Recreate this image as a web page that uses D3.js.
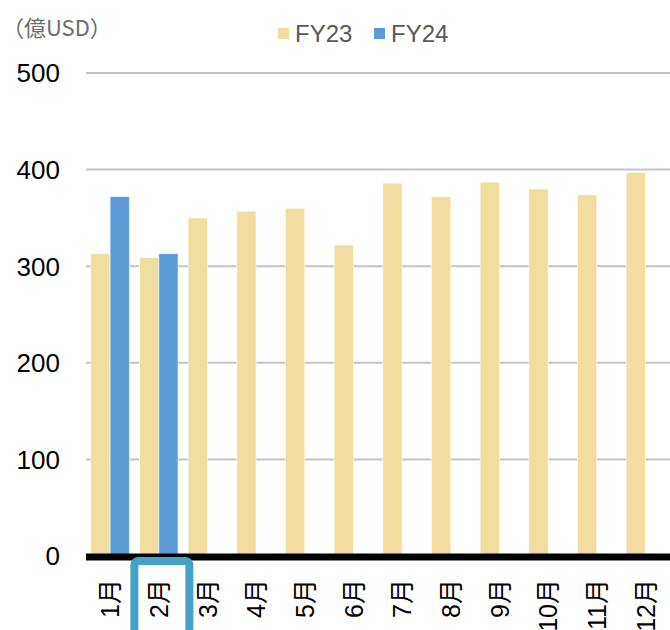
<!DOCTYPE html>
<html>
<head>
<meta charset="utf-8">
<script src="https://cdn.jsdelivr.net/npm/d3@7"></script>
<style>
  body { margin: 0; background: #fff; }
  svg { display: block; font-family: "Liberation Sans", "Noto Sans CJK JP", sans-serif; }
</style>
</head>
<body>
<div id="chart"></div>
<script>
// monthly values, 億USD
let months = ["1月","2月","3月","4月","5月","6月","7月","8月","9月","10月","11月","12月"]
let series = ["FY23","FY24"]
let fy23 = [313, 309, 350, 357, 360, 322, 386, 372, 387, 380, 374, 397]
let fy24 = [372, 313, null, null, null, null, null, null, null, null, null, null]
let yTicks = [0, 100, 200, 300, 400, 500]
let highlightMonth = "2月"

let width = 670, height = 630
let colors = {FY23: "#F2DDA0", FY24: "#5B9BD5"}

let rows = months.map((m, i) => ({month: m, FY23: fy23[i], FY24: fy24[i]}))

let svg = d3.select("#chart").append("svg")
  .attr("width", width)
  .attr("height", height)

let x = d3.scaleBand().domain(months).range([86, 670]).padding(0)
let x1 = d3.scaleBand().domain(series).range([4.8, 43.4]).padding(0)
let y = d3.scaleLinear().domain([0, 500]).range([556, 73])

// gridlines
svg.append("g")
  .selectAll("line")
  .data(yTicks.filter(d => d > 0))
  .join("line")
  .attr("x1", 86).attr("x2", 670)
  .attr("y1", d => y(d)).attr("y2", d => y(d))
  .attr("stroke", "#c4c4c4")
  .attr("stroke-width", 2)

// y labels
svg.append("g")
  .selectAll("text")
  .data(yTicks)
  .join("text")
  .attr("x", 60)
  .attr("y", d => y(d))
  .attr("dy", "0.36em")
  .attr("text-anchor", "end")
  .attr("font-size", 26)
  .attr("fill", "#000")
  .text(d => d)

// bars
let groups = svg.append("g")
  .selectAll("g")
  .data(rows)
  .join("g")
  .attr("transform", d => `translate(${x(d.month)},0)`)

groups.selectAll("rect")
  .data(d => series.filter(s => d[s] != null).map(s => ({key: s, value: d[s]})))
  .join("rect")
  .attr("x", d => x1(d.key))
  .attr("width", x1.bandwidth())
  .attr("y", d => y(d.value))
  .attr("height", d => y(0) - y(d.value))
  .attr("fill", d => colors[d.key])
  .attr("stroke", "#fff")
  .attr("stroke-opacity", 0.6)
  .attr("stroke-width", 1)

// zero axis line
svg.append("line")
  .attr("x1", 86).attr("x2", 670)
  .attr("y1", y(0) + 1).attr("y2", y(0) + 1)
  .attr("stroke", "#000")
  .attr("stroke-width", 7)

// month labels (rotated)
svg.append("g")
  .selectAll("text")
  .data(months)
  .join("text")
  .attr("transform", d => `translate(${x(d) + x.bandwidth() / 2},579) rotate(-90)`)
  .attr("dy", "0.36em")
  .attr("text-anchor", "end")
  .attr("font-size", 25)
  .attr("fill", "#000")
  .text(d => d)

// highlight box around one month
svg.append("rect")
  .attr("x", x(highlightMonth) - 0.3)
  .attr("y", 561)
  .attr("width", 55)
  .attr("height", 90)
  .attr("rx", 4)
  .attr("fill", "none")
  .attr("stroke", "#46A1C9")
  .attr("stroke-width", 8)

// unit label
svg.append("text")
  .attr("x", 2)
  .attr("y", 36)
  .attr("font-size", 22)
  .attr("fill", "#6b6b6b")
  .style("font-family", "'Noto Sans CJK JP', sans-serif")
  .text("（億USD）")

// legend
let legendX = [278, 374]
let legend = svg.append("g")
  .selectAll("g")
  .data(series)
  .join("g")
  .attr("transform", (d, i) => `translate(${legendX[i]},0)`)

legend.append("rect")
  .attr("x", 0).attr("y", 28)
  .attr("width", 11).attr("height", 11)
  .attr("fill", d => colors[d])

legend.append("text")
  .attr("x", 17)
  .attr("y", 42)
  .attr("font-size", 24)
  .attr("fill", "#595959")
  .text(d => d)
</script>
</body>
</html>
